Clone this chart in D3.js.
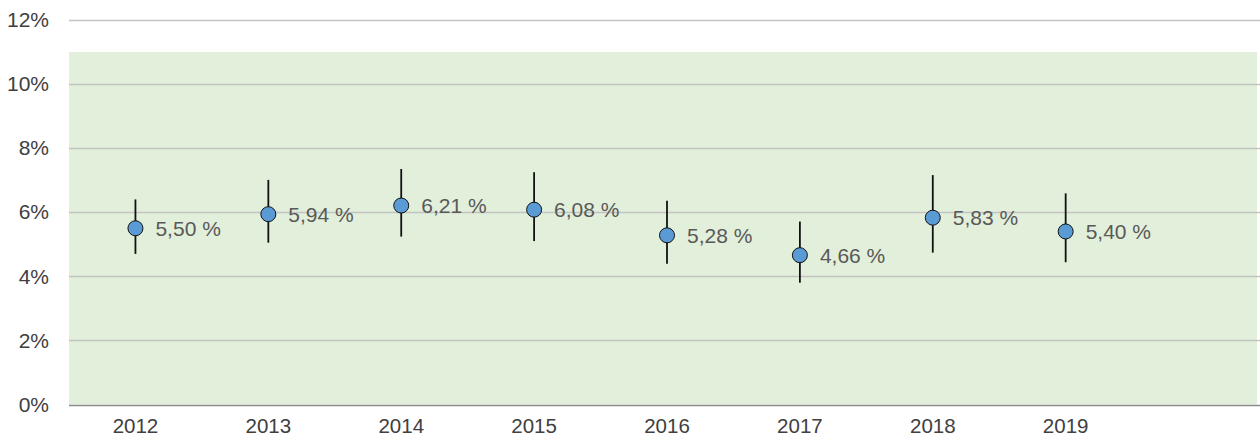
<!DOCTYPE html>
<html>
<head>
<meta charset="utf-8">
<script src="https://cdn.jsdelivr.net/npm/d3@7"></script>
<style>
  body { margin: 0; background: #fff; }
  text { font-family: "Liberation Sans", Arial, sans-serif; }
</style>
</head>
<body>
<div id="chart"></div>
<script>
// data
const years = ['2012', '2013', '2014', '2015', '2016', '2017', '2018', '2019'];
const values = [5.50, 5.94, 6.21, 6.08, 5.28, 4.66, 5.83, 5.40];
const upper = [6.40, 7.01, 7.35, 7.25, 6.36, 5.71, 7.16, 6.59];
const lower = [4.70, 5.05, 5.24, 5.10, 4.39, 3.80, 4.74, 4.44];
const yTicks = [0, 2, 4, 6, 8, 10, 12];
const bandTop = 11; // green area top

const width = 1260;
const height = 443;
const margin = { top: 20, bottom: 38.5, left: 69 };
const plotRight = 1257;

const svg = d3.select('#chart')
  .append('svg')
  .attr('width', width)
  .attr('height', height);

// one empty slot at the end, like the original
const x = d3.scaleBand()
  .domain(years.concat(['']))
  .range([margin.left, 1265]);

const y = d3.scaleLinear()
  .domain([0, 12])
  .range([height - margin.bottom, margin.top]);

// green background
svg.append('rect')
  .attr('x', margin.left)
  .attr('y', y(bandTop))
  .attr('width', plotRight - margin.left)
  .attr('height', y(0) - y(bandTop))
  .attr('fill', '#e2efda');

// gridlines + labels
const yAxis = svg.append('g')
  .attr('transform', `translate(${margin.left},0)`)
  .call(d3.axisLeft(y).tickValues(yTicks).tickSize(0).tickPadding(20)
    .tickFormat((d) => `${d}%`));
yAxis.select('.domain').remove();
yAxis.selectAll('text')
  .style('font-size', '21px')
  .attr('fill', '#404040');

svg.append('g')
  .selectAll('line')
  .data(yTicks)
  .enter()
  .append('line')
  .attr('x1', margin.left)
  .attr('x2', width)
  .attr('y1', (d) => Math.round(y(d)) + 0.5)
  .attr('y2', (d) => Math.round(y(d)) + 0.5)
  .attr('stroke', (d) => (d === 0 ? '#8c8c8c' : '#c3c3c3'))
  .attr('stroke-width', 1.3);

// x axis labels
const xAxis = svg.append('g')
  .attr('transform', `translate(0,${y(0)})`)
  .call(d3.axisBottom(x).tickSize(0).tickPadding(14));
xAxis.select('.domain').remove();
xAxis.selectAll('text')
  .style('font-size', '20.5px')
  .attr('fill', '#404040');

const cx = (d, i) => x(years[i]) + x.bandwidth() / 2;

// error bars
svg.append('g')
  .selectAll('line')
  .data(values)
  .enter()
  .append('line')
  .attr('x1', cx)
  .attr('x2', cx)
  .attr('y1', (d, i) => y(upper[i]))
  .attr('y2', (d, i) => y(lower[i]))
  .attr('stroke', '#111')
  .attr('stroke-width', 1.8);

// points
svg.append('g')
  .selectAll('circle')
  .data(values)
  .enter()
  .append('circle')
  .attr('cx', cx)
  .attr('cy', (d) => y(d))
  .attr('r', 7.5)
  .attr('fill', '#5b9bd5')
  .attr('stroke', '#111')
  .attr('stroke-width', 1);

// value labels
svg.append('g')
  .selectAll('text')
  .data(values)
  .enter()
  .append('text')
  .attr('x', (d, i) => cx(d, i) + 20)
  .attr('y', (d) => y(d) + 7.5)
  .style('font-size', '21px')
  .attr('fill', '#595959')
  .text((d) => `${d.toFixed(2).replace('.', ',')} %`);
</script>
</body>
</html>
